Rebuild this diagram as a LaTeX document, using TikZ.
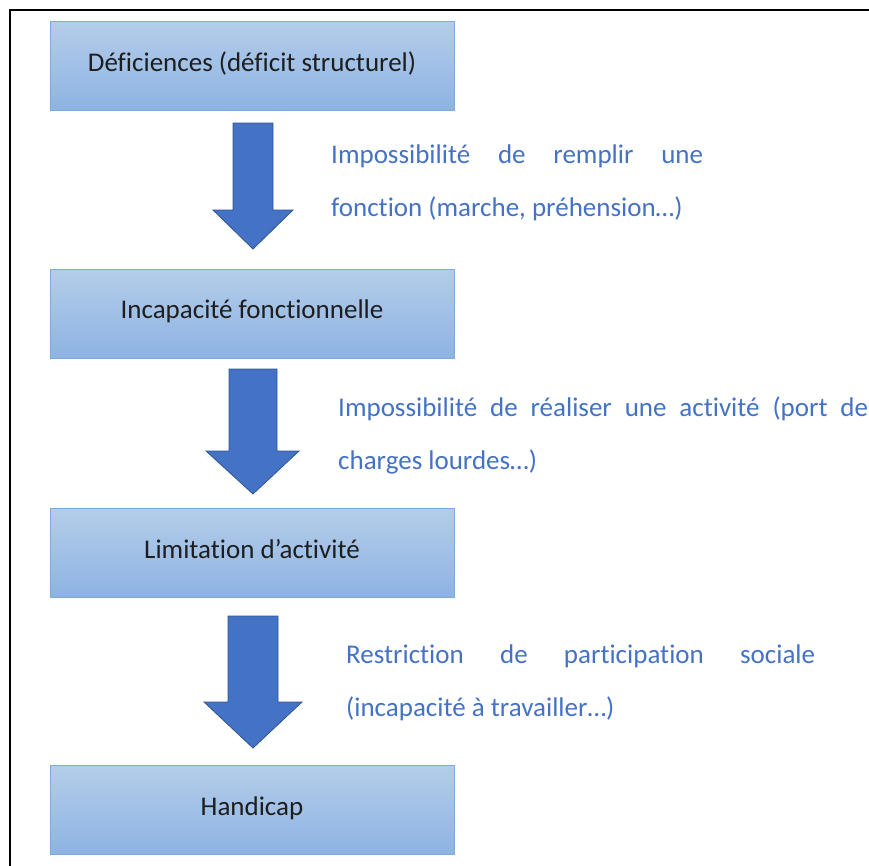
\documentclass[tikz,border=0pt]{standalone}
\usepackage{fontspec}
\setmainfont{Carlito}[Ligatures=NoCommon]
\definecolor{boxtop}{HTML}{B4CDEA}
\definecolor{boxbot}{HTML}{8DB3E2}
\definecolor{boxline}{HTML}{7EA9DC}
\definecolor{arrfill}{HTML}{4472C4}
\definecolor{arrline}{HTML}{2F5597}
\definecolor{txtblue}{HTML}{4472C4}
\definecolor{boxtext}{HTML}{1E1E1E}
\tikzset{
  stepbox/.style={draw=boxline, line width=1pt, top color=boxtop, bottom color=boxbot,
    minimum width=404pt, minimum height=89pt, inner sep=0pt,
    font=\fontsize{27}{32}\selectfont, text=boxtext},
  blockarrow/.style={fill=arrfill, draw=arrline, line width=0.8pt, line join=miter},
  note/.style={anchor=base west, inner sep=0pt, text=txtblue, font=\fontsize{27}{32}\selectfont},
  frameline/.style={line width=2.5pt, black}
}
\begin{document}
\begin{tikzpicture}[x=1pt,y=-1pt]
\useasboundingbox (0,0) rectangle (869,865);
% frame
\coordinate (fbl) at (10,866);
\coordinate (ftl) at (10,10);
\coordinate (ftr) at (870,10);
\draw[frameline] (fbl) -- (ftl) -- (ftr);
% boxes
\node[stepbox] (b1) at (252,66) {\raisebox{8pt}{Déficiences (déficit structurel)}};
\node[stepbox] (b2) at (252,313.5) {\raisebox{8pt}{Incapacité fonctionnelle}};
\node[stepbox] (b3) at (252,553) {\raisebox{8pt}{Limitation d’activité}};
\node[stepbox] (b4) at (252,810) {\raisebox{8pt}{Handicap}};
% block arrows
\draw[blockarrow] (233,123) -- (273,123) -- (273,210) -- (293,210) -- (253,249) -- (213,210) -- (233,210) -- cycle;
\draw[blockarrow] (229,369) -- (277,369) -- (277,451) -- (299,451) -- (253,494) -- (206,451) -- (229,451) -- cycle;
\draw[blockarrow] (228,616) -- (278,616) -- (278,702) -- (302,702) -- (253,748) -- (204,702) -- (228,702) -- cycle;
% notes
\node[note] (n1a) at (331,163) {\makebox[372pt][s]{Impossibilité de remplir une}};
\node[note] (n1b) at (331,216) {fonction (marche, préhension…)};
\node[note] (n2a) at (338,416) {\makebox[530pt][s]{Impossibilité de réaliser une activité (port de}};
\node[note] (n2b) at (338,469) {charges lourdes…)};
\node[note] (n3a) at (346,663) {\makebox[469pt][s]{Restriction de participation sociale}};
\node[note] (n3b) at (346,716) {(incapacité à travailler…)};
\end{tikzpicture}
\end{document}
